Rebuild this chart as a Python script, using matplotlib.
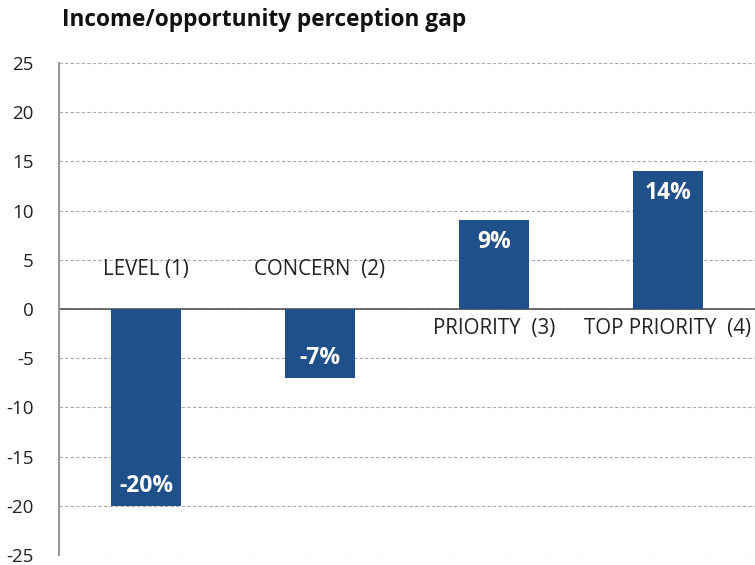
import matplotlib.pyplot as plt

# Perception gap per question type (percentage points)
categories = ["LEVEL (1)", "CONCERN  (2)", "PRIORITY  (3)", "TOP PRIORITY  (4)"]
gap = [-20, -7, 9, 14]
value_labels = ["-20%", "-7%", "9%", "14%"]
# y position of the category text for each bar
category_y = [4, 4, -2, -2]

plt.rcParams['font.family'] = ['Open Sans', 'DejaVu Sans']
plt.rcParams['axes.unicode_minus'] = False

fig = plt.figure(figsize=(7.55, 5.65), dpi=100)
ax = fig.add_axes([0.0781, 0.0177, 0.9219, 0.8708])

x = range(len(categories))
bar_color = "#20508a"
ax.bar(x, gap, width=0.40, color=bar_color, zorder=3)

# value labels inside bars, category names beside the zero line
for i, v in enumerate(gap):
    inside = v - 2.2 if v > 0 else v + 2.0
    ax.text(i, inside, value_labels[i], ha="center", va="center",
            color="white", fontsize=16.5, fontweight="bold", zorder=4)
    ax.text(i, category_y[i], categories[i], ha="center", va="center",
            color="#222222", fontsize=14.8, zorder=4)

ax.set_xlim(-0.5, 3.5)
ax.set_ylim(-25, 25)
ax.set_yticks(range(-25, 26, 5))
ax.set_xticks([])
ax.grid(axis="y", linestyle=(0, (3, 2)), color="#aaaaaa", linewidth=0.8, zorder=0)
ax.axhline(0, color="#555555", linewidth=1.2, zorder=2)

for side in ["top", "right", "bottom"]:
    ax.spines[side].set_visible(False)
ax.spines["left"].set_color("#999999")
ax.spines["left"].set_linewidth(1.5)
ax.tick_params(axis="y", length=0, labelsize=13.5, pad=18, labelcolor="#222222")

fig.text(62 / 755, 1 - 20 / 565, "Income/opportunity perception gap",
         fontsize=16.3, fontweight="bold", ha="left", va="center", color="#111111")

fig.savefig("out.png", dpi=100)
